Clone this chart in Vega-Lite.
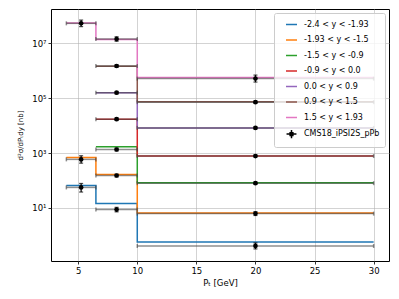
{
  "$schema": "https://vega.github.io/schema/vega-lite/v6.json",
  "width": 338,
  "height": 252,
  "autosize": "none",
  "padding": {"left": 51, "top": 9, "right": 10, "bottom": 38},
  "background": "white",
  "config": {
    "font": "DejaVu Sans",
    "view": {"stroke": "#000000", "strokeWidth": 1},
    "axis": {
      "domain": false, "grid": true, "gridColor": "#b0b0b0", "gridOpacity": 0.7, "gridWidth": 0.8,
      "tickColor": "#000000", "tickSize": 3, "tickWidth": 0.8,
      "labelFontSize": 8.5, "labelColor": "#000000", "labelPadding": 2,
      "titleFontSize": 8.5, "titleFontWeight": "normal", "titleColor": "#000000"
    },
    "legend": {
      "orient": "top-right", "offset": 4, "fillColor": "rgba(255,255,255,0.8)", "strokeColor": "#cccccc",
      "cornerRadius": 2, "padding": 5, "labelFontSize": 8, "labelColor": "#000000",
      "symbolSize": 121, "symbolStrokeWidth": 1.5, "symbolOpacity": 1, "rowPadding": 4.5, "labelOffset": 6,
      "symbolOffset": 6
    }
  },
  "datasets": {
    "model": [
      {"label": "-2.4 < y < -1.93", "x": 4, "v": 66},
      {"label": "-2.4 < y < -1.93", "x": 6.5, "v": 14.5},
      {"label": "-2.4 < y < -1.93", "x": 10, "v": 0.57},
      {"label": "-2.4 < y < -1.93", "x": 30, "v": 0.57},
      {"label": "-1.93 < y < -1.5", "x": 4, "v": 690},
      {"label": "-1.93 < y < -1.5", "x": 6.5, "v": 165},
      {"label": "-1.93 < y < -1.5", "x": 10, "v": 6.6},
      {"label": "-1.93 < y < -1.5", "x": 30, "v": 6.6},
      {"label": "-1.5 < y < -0.9", "x": 6.5, "v": 1690},
      {"label": "-1.5 < y < -0.9", "x": 10, "v": 82},
      {"label": "-1.5 < y < -0.9", "x": 30, "v": 82},
      {"label": "-0.9 < y < 0.0", "x": 6.5, "v": 17300},
      {"label": "-0.9 < y < 0.0", "x": 10, "v": 790},
      {"label": "-0.9 < y < 0.0", "x": 30, "v": 790},
      {"label": "0.0 < y < 0.9", "x": 6.5, "v": 158000},
      {"label": "0.0 < y < 0.9", "x": 10, "v": 8300},
      {"label": "0.0 < y < 0.9", "x": 30, "v": 8300},
      {"label": "0.9 < y < 1.5", "x": 6.5, "v": 1480000},
      {"label": "0.9 < y < 1.5", "x": 10, "v": 74000},
      {"label": "0.9 < y < 1.5", "x": 30, "v": 74000},
      {"label": "1.5 < y < 1.93", "x": 4, "v": 56000000},
      {"label": "1.5 < y < 1.93", "x": 6.5, "v": 14000000},
      {"label": "1.5 < y < 1.93", "x": 10, "v": 570000},
      {"label": "1.5 < y < 1.93", "x": 30, "v": 570000}
    ],
    "meas": [
      {"label": "CMS18_iPSI2S_pPb", "series": "1.5 < y < 1.93", "xc": 5.25, "xlo": 4, "xhi": 6.5, "v": 54000000, "lo": 41000000, "hi": 71000000},
      {"label": "CMS18_iPSI2S_pPb", "series": "-1.93 < y < -1.5", "xc": 5.25, "xlo": 4, "xhi": 6.5, "v": 590, "lo": 430, "hi": 800},
      {"label": "CMS18_iPSI2S_pPb", "series": "-2.4 < y < -1.93", "xc": 5.25, "xlo": 4, "xhi": 6.5, "v": 56, "lo": 38, "hi": 78},
      {"label": "CMS18_iPSI2S_pPb", "series": "1.5 < y < 1.93", "xc": 8.25, "xlo": 6.5, "xhi": 10, "v": 14500000, "lo": 12000000, "hi": 17500000},
      {"label": "CMS18_iPSI2S_pPb", "series": "0.9 < y < 1.5", "xc": 8.25, "xlo": 6.5, "xhi": 10, "v": 1500000, "lo": 1350000, "hi": 1650000},
      {"label": "CMS18_iPSI2S_pPb", "series": "0.0 < y < 0.9", "xc": 8.25, "xlo": 6.5, "xhi": 10, "v": 160000, "lo": 145000, "hi": 175000},
      {"label": "CMS18_iPSI2S_pPb", "series": "-0.9 < y < 0.0", "xc": 8.25, "xlo": 6.5, "xhi": 10, "v": 17200, "lo": 15500, "hi": 19000},
      {"label": "CMS18_iPSI2S_pPb", "series": "-1.5 < y < -0.9", "xc": 8.25, "xlo": 6.5, "xhi": 10, "v": 1350, "lo": 1200, "hi": 1520},
      {"label": "CMS18_iPSI2S_pPb", "series": "-1.93 < y < -1.5", "xc": 8.25, "xlo": 6.5, "xhi": 10, "v": 152, "lo": 135, "hi": 170},
      {"label": "CMS18_iPSI2S_pPb", "series": "-2.4 < y < -1.93", "xc": 8.25, "xlo": 6.5, "xhi": 10, "v": 8.7, "lo": 7.2, "hi": 10.5},
      {"label": "CMS18_iPSI2S_pPb", "series": "1.5 < y < 1.93", "xc": 20, "xlo": 10, "xhi": 30, "v": 520000, "lo": 390000, "hi": 700000},
      {"label": "CMS18_iPSI2S_pPb", "series": "0.9 < y < 1.5", "xc": 20, "xlo": 10, "xhi": 30, "v": 72000, "lo": 66000, "hi": 79000},
      {"label": "CMS18_iPSI2S_pPb", "series": "0.0 < y < 0.9", "xc": 20, "xlo": 10, "xhi": 30, "v": 8300, "lo": 7600, "hi": 9000},
      {"label": "CMS18_iPSI2S_pPb", "series": "-0.9 < y < 0.0", "xc": 20, "xlo": 10, "xhi": 30, "v": 780, "lo": 720, "hi": 850},
      {"label": "CMS18_iPSI2S_pPb", "series": "-1.5 < y < -0.9", "xc": 20, "xlo": 10, "xhi": 30, "v": 80, "lo": 73, "hi": 88},
      {"label": "CMS18_iPSI2S_pPb", "series": "-1.93 < y < -1.5", "xc": 20, "xlo": 10, "xhi": 30, "v": 6.2, "lo": 5.3, "hi": 7.3},
      {"label": "CMS18_iPSI2S_pPb", "series": "-2.4 < y < -1.93", "xc": 20, "xlo": 10, "xhi": 30, "v": 0.41, "lo": 0.32, "hi": 0.53}
    ]
  },
  "layer": [
    {
      "data": {"name": "model"},
      "mark": {"type": "line", "interpolate": "step-after", "strokeWidth": 1.5},
      "encoding": {
        "x": {"field": "x", "type": "quantitative", "title": "Pₜ [GeV]",
              "scale": {"domain": [2.7, 31.3], "nice": false, "zero": false},
              "axis": {"values": [5, 10, 15, 20, 25, 30], "titlePadding": 4}},
        "y": {"field": "v", "type": "quantitative", "title": "d²σ/dPₜdy [nb]",
              "scale": {"type": "log", "domain": [0.116, 180000000], "nice": false},
              "axis": {"values": [10, 1000, 100000, 10000000], "titleFontSize": 7, "titlePadding": 8,
                       "labelExpr": "'10' + ['⁰','¹','²','³','⁴','⁵','⁶','⁷','⁸'][round(log(datum.value)/LN10)]"}},
        "color": {"field": "label", "type": "nominal", "legend": {"title": null},
                  "scale": {"domain": ["-2.4 < y < -1.93", "-1.93 < y < -1.5", "-1.5 < y < -0.9", "-0.9 < y < 0.0", "0.0 < y < 0.9", "0.9 < y < 1.5", "1.5 < y < 1.93", "CMS18_iPSI2S_pPb"],
                            "range": ["#1f77b4", "#ff7f0e", "#2ca02c", "#d62728", "#9467bd", "#8c564b", "#e377c2", "#000000"]}}
      }
    },
    {
      "data": {"name": "meas"},
      "mark": {"type": "errorbar", "ticks": {"size": 4}, "color": "#444444", "opacity": 0.6, "thickness": 1.5},
      "encoding": {
        "x": {"field": "xlo", "type": "quantitative", "title": "Pₜ [GeV]"},
        "x2": {"field": "xhi"},
        "y": {"field": "v", "type": "quantitative", "title": "d²σ/dPₜdy [nb]"}
      }
    },
    {
      "data": {"name": "meas"},
      "mark": {"type": "errorbar", "ticks": {"size": 4}, "color": "#000000", "thickness": 1.2},
      "encoding": {
        "y": {"field": "lo", "type": "quantitative", "title": "d²σ/dPₜdy [nb]"},
        "y2": {"field": "hi"},
        "x": {"field": "xc", "type": "quantitative", "title": "Pₜ [GeV]"}
      }
    },
    {
      "data": {"name": "meas"},
      "mark": {"type": "point", "filled": true, "color": "#000000", "size": 22, "shape": "circle", "opacity": 1},
      "encoding": {
        "x": {"field": "xc", "type": "quantitative", "title": "Pₜ [GeV]"},
        "y": {"field": "v", "type": "quantitative", "title": "d²σ/dPₜdy [nb]"}
      }
    },
    {
      "data": {"name": "meas"},
      "mark": {"type": "point", "filled": false, "opacity": 0, "strokeWidth": 1.5},
      "encoding": {
        "x": {"field": "xc", "type": "quantitative", "title": "Pₜ [GeV]"},
        "y": {"field": "v", "type": "quantitative", "title": "d²σ/dPₜdy [nb]"},
        "color": {"field": "label", "type": "nominal", "legend": {"title": null}},
        "shape": {"field": "label", "type": "nominal", "legend": {"title": null},
                  "scale": {"domain": ["-2.4 < y < -1.93", "-1.93 < y < -1.5", "-1.5 < y < -0.9", "-0.9 < y < 0.0", "0.0 < y < 0.9", "0.9 < y < 1.5", "1.5 < y < 1.93", "CMS18_iPSI2S_pPb"],
                            "range": ["stroke", "stroke", "stroke", "stroke", "stroke", "stroke", "stroke", "M-0.9,0H0.9M0,-0.75V0.75M-0.25,-0.25H0.25V0.25H-0.25Z"]}}
      }
    }
  ]
}
